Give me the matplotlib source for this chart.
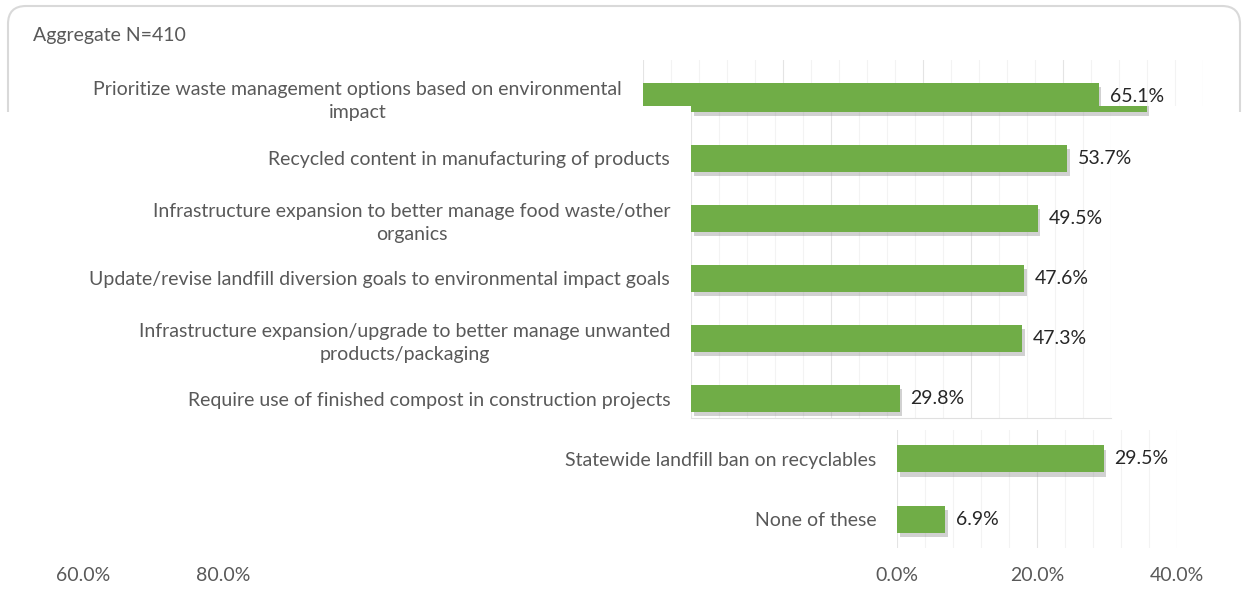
import numpy as np
import matplotlib.pyplot as plt
import matplotlib.patheffects as pe
from matplotlib.patches import FancyBboxPatch
from matplotlib.transforms import IdentityTransform, Bbox

# -----------------------------
# Data
# -----------------------------
title = "Aggregate N=410"
categories = [
    "Prioritize waste management options based on environmental\nimpact",
    "Recycled content in manufacturing of products",
    "Infrastructure expansion to better manage food waste/other\norganics",
    "Update/revise landfill diversion goals to environmental impact goals",
    "Infrastructure expansion/upgrade to better manage unwanted\nproducts/packaging",
    "Require use of finished compost in construction projects",
    "Statewide landfill ban on recyclables",
    "None of these",
]
values = [65.1, 53.7, 49.5, 47.6, 47.3, 29.8, 29.5, 6.9]
tick_vals = [0, 20, 40, 60, 80]

# -----------------------------
# Style
# -----------------------------
plt.rcParams['font.family'] = ['Lato', 'DejaVu Sans']
GREEN = "#70AD47"
LABEL = "#595959"
VALUE = "#262626"
FS = 14
W, H = 1243, 604
PX = 7.0  # pixels per percent

fig = plt.figure(figsize=(W / 100, H / 100), dpi=100)
fig.patch.set_facecolor("white")


def add_px_axes(left, top, width, bottom, zorder=0):
    ax = fig.add_axes([left / W, 1 - bottom / H, width / W, (bottom - top) / H], zorder=zorder)
    return ax


def style_axes(ax, xmax):
    ax.set_xlim(0, xmax)
    for s in ax.spines.values():
        s.set_visible(False)
    ax.set_xticks(np.arange(0, xmax + 0.1, 4), minor=True)
    ax.set_xticks(np.arange(0, xmax + 0.1, 20))
    ax.grid(axis="x", which="minor", color="#f3f3f3", lw=0.8)
    ax.grid(axis="x", which="major", color="#e4e4e4", lw=0.8)
    ax.set_axisbelow(True)
    ax.tick_params(axis="both", which="both", length=0)
    ax.tick_params(axis="y", pad=15, labelsize=FS, labelcolor=LABEL)
    ax.set_xticklabels([])


shadow = [pe.SimplePatchShadow(offset=(2, -3), shadow_rgbFace="#8c8c8c", alpha=0.4), pe.Normal()]


def draw_bars(ax, ys, vals, skip_label=()):
    bars = ax.barh(ys, vals, height=0.45, color=GREEN, zorder=3)
    for i, (b, v) in enumerate(zip(bars, vals)):
        b.set_path_effects(shadow)
        b.set_clip_on(False)
        if i in skip_label:
            continue
        ax.text(v + 11 / PX, b.get_y() + b.get_height() / 2, f"{v:.1f}%",
                va="center", ha="left", fontsize=FS, color=VALUE, clip_on=False)
    return bars


# main block (rows 1-6), origin at 691 px
axB = add_px_axes(691, 68, 60 * PX, 418, zorder=1)
style_axes(axB, 60)
ysB = np.arange(6)
draw_bars(axB, ysB, values[:6], skip_label=(0,))
axB.set_ylim(5.32, -0.5)
axB.set_yticks(ysB)
axB.set_yticklabels([""] + categories[1:6], multialignment="center", linespacing=1.45)
axB.spines["bottom"].set_visible(True)
axB.spines["bottom"].set_color("#e0e0e0")
axB.spines["bottom"].set_linewidth(0.8)

# shifted copy of the first row, origin at 643 px
axA = add_px_axes(643, 60, 80 * PX, 106, zorder=2)
style_axes(axA, 80)
axA.set_facecolor("white")
draw_bars(axA, [0], values[:1])
for b in axA.patches:
    b.set_clip_on(True)
axA.set_ylim(10 / 60, -36 / 60)
axA.set_yticks([0])
axA.set_yticklabels(categories[:1], multialignment="center", linespacing=1.45)

# lower block (rows 7-8), origin at 897 px
axC = add_px_axes(897, 430, 40 * PX, 548, zorder=1)
style_axes(axC, 40)
ysC = np.arange(2)
draw_bars(axC, ysC, values[6:])
axC.set_ylim(1.483, -0.483)
axC.set_yticks(ysC)
axC.set_yticklabels(categories[6:])
axC.set_xticks(tick_vals[:3])
axC.set_xticklabels([f"{t:.1f}%" for t in tick_vals[:3]])
axC.tick_params(axis="x", pad=14, labelsize=FS, labelcolor=LABEL)

# wrapped-around tick labels at the far left
axD = add_px_axes(13, 547, 40 * PX, 548, zorder=1)
axD.set_xlim(50, 90)
axD.set_facecolor("none")
for s in axD.spines.values():
    s.set_visible(False)
axD.set_yticks([])
axD.set_xticks(tick_vals[3:])
axD.set_xticklabels([f"{t:.1f}%" for t in tick_vals[3:]])
axD.tick_params(axis="x", length=0, pad=14, labelsize=FS, labelcolor=LABEL)

# title and partial rounded border
fig.text(33 / W, 1 - 36 / H, title, ha="left", va="center", fontsize=FS, color=LABEL)
border = FancyBboxPatch((8, H - 300), 1232, 294, boxstyle="round,pad=0,rounding_size=18",
                        transform=IdentityTransform(), fill=False, ec="#d9d9d9", lw=1.5)
fig.patches.append(border)
border.set_figure(fig)
border.set_clip_box(Bbox([[0, H - 112], [W, H]]))

fig.savefig("out.png", dpi=100)
